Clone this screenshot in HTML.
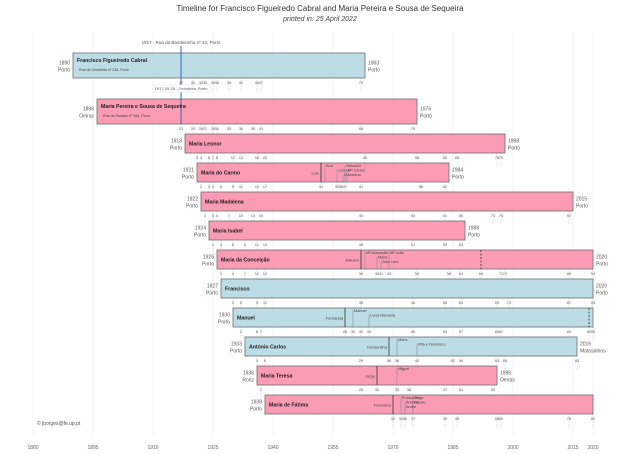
<!DOCTYPE html>
<html><head><meta charset="utf-8">
<style>
html,body{margin:0;padding:0;background:#fff;}
svg{display:block;font-family:"Liberation Sans",sans-serif;}
</style></head>
<body>
<svg id="chart" width="640" height="454" viewBox="0 0 640 454">
<text x="320" y="11" text-anchor="middle" font-size="8" fill="#333">Timeline for Francisco Figueiredo Cabral and Maria Pereira e Sousa de Sequeira</text>
<text x="320" y="21" text-anchor="middle" font-size="7" font-style="italic" fill="#444">printed in:  25 April 2022</text>
<text x="37" y="425" font-size="5" fill="#555">© jborges@fe.up.pt</text>
<g id="grid"></g><g id="rows"></g><g id="axis"></g>
</svg>
<script>
const axisYears = [1880, 1895, 1910, 1925, 1940, 1955, 1970, 1985, 2000, 2015, 2020];
const names = ["Francisco Figueiredo Cabral","Maria Pereira e Sousa de Sequeira","Maria Leonor","Maria do Carmo","Maria Madalena","Maria Isabel","Maria da Conceição","Francisco","Manuel","António Carlos","Maria Teresa","Maria de Fátima"];
const births = [1890,1896,1918,1921,1922,1924,1926,1927,1930,1933,1936,1938];
const deaths = [1963,1976,1998,1984,2015,1988,2020,2020,2020,2016,1996,2020];
const birthPlaces = ["Porto","Oeiras","Porto","Porto","Porto","Porto","Porto","Porto","Porto","Porto","Roriz","Porto"];
const deathLabels = ["1963","1976","1998","1984","2015","1988","2020","2020","","2016","1996",""];
const deathPlaces = ["Porto","Porto","Porto","Porto","Porto","Porto","Porto","Porto","","Matosinhos","Oeiras",""];
const sexes = ["M","F","F","F","F","F","F","M","M","M","F","F"];
const addresses = ["Rua de Cedofeita nº 238, Porto","Rua do Rosário nº 166, Porto","","","","","","","","","",""];
const ageTicks = [
 [27,30,32,33,35,36,39,42,46,47,72],
 [21,24,26,27,29,30,33,36,39,41,66,79],
 [3,4,6,7,8,12,14,18,20,45,58,65,68,78,79],
 [1,3,4,6,9,11,15,17,31,35,36,37,41,56,62],
 [1,3,4,7,10,13,15,40,53,61,65,73,75,92],
 [1,3,6,9,12,14,38,51,59,63],
 [1,4,7,10,12,36,40,41,43,50,58,61,66,71,72,88,94],
 [3,5,9,11,35,48,56,60,69,72,87,93],
 [2,6,7,28,30,32,34,45,53,57,66,67,84,89,90],
 [3,5,29,36,38,43,52,54,63,65,83],
 [1,26,30,35,38,47,51,59],
 [32,34,35,37,45,48,58,59,76,82]
];
const spouseAges = [null,null,null,31,null,null,36,null,28,36,30,32];
const spouseNames = ["","","","Luís","","","Adriano","","Fernanda","Clementina","Jorge","Francisco"];
const dashAges = [null,null,null,null,null,null,66,null,89,null,null,null];
const childAges = [[],[],[],[32,35,36.5,37,37.5],[],[],[37,40,41,43],[],[30,34],[38,43],[35],[34,35,37,35,37]];
const childNames = [[],[],[],["Ana","Leonor","Madalena","Salvador","Mª Carmo"],[],[],["Mª Assunção","Maria","José Luís","Mª João"],[],["Manuel","Luísa Manuela"],["Maria","Rita e Francisco"],["Miguel"],["Francisco","António","Fausto","André","Tiago"]];
const childLevels = [[],[],[],[0,1,2,0,1],[],[],[0,1,2,0],[],[0,1],[0,1],[0],[0,1,1,2,0]];
const eventYear = 1917;

const NS="http://www.w3.org/2000/svg";
const x = y => 33 + (y - 1880) * 4;
const rowTop = i => i===0 ? 53 : i===1 ? 99 : 134 + (i-2)*29;
const rowH = i => i<2 ? 25 : 19;
function mk(tag, attrs, parent, txt){const e=document.createElementNS(NS,tag);for(const k in attrs)e.setAttribute(k,attrs[k]);if(txt!==undefined)e.textContent=txt;parent.appendChild(e);return e;}
const grid=document.getElementById('grid'), rows=document.getElementById('rows'), axis=document.getElementById('axis');

axisYears.forEach(yr=>{
  const l=mk('line',{x1:x(yr),x2:x(yr),y1:32,y2:436,stroke:'#ececec','stroke-width':0.6},grid);
  
  
  const t=mk('text',{x:x(yr),y:449,'text-anchor':'middle','font-size':5,fill:'#666'},axis,String(yr));
  
  
});

names.forEach((nm,i)=>{
  const g=mk('g',{},rows);
  
  
  const top=rowTop(i), h=rowH(i), bot=top+h;
  const x0=x(births[i]), x1=x(deaths[i]);
  // age ticks
  ageTicks[i].forEach(a=>{
    const tx=x(births[i]+a);
    const dl=mk('line',{x1:tx,x2:tx,y1:bot,y2:bot+14,stroke:'#bbb','stroke-width':0.5,'stroke-dasharray':'1,1'},g);
    
    
    const tt=mk('text',{x:tx,y:bot+6,'text-anchor':'middle','font-size':4,fill:'#666'},g,String(a));
    
    
  });
  const r=mk('rect',{x:x0,y:top,width:x1-x0,height:h,fill:sexes[i]==='M'?'#bcdde6':'#fb9bb4',stroke:'#6e6e6e','stroke-width':0.8},g);
  
  
  const nt=mk('text',{x:x0+4,y:top+(i<2?9:h/2+2),'font-size':5.2,'font-weight':'bold',fill:'#222'},g,nm);
  
  
  if(addresses[i]){
    const at=mk('text',{x:x0+6,y:top+18,'font-size':3.6,fill:'#444'},g,addresses[i]);
    
    
  }
  const by=mk('text',{x:x0-3,y:top+h/2-1,'text-anchor':'end','font-size':5,fill:'#555'},g,String(births[i]));
  
  
  const bp=mk('text',{x:x0-3,y:top+h/2+6,'text-anchor':'end','font-size':5,fill:'#555'},g,birthPlaces[i]);
  
  
  if(deathLabels[i]){
    const dy=mk('text',{x:x1+3,y:top+h/2-1,'font-size':5,fill:'#555'},g,deathLabels[i]);
    
    
    const dp=mk('text',{x:x1+3,y:top+h/2+6,'font-size':5,fill:'#555'},g,deathPlaces[i]);
    
    
  }
  if(spouseAges[i]!==null){
    const sx=x(births[i]+spouseAges[i]);
    const sl=mk('line',{x1:sx,x2:sx,y1:top,y2:bot,stroke:'#333','stroke-width':0.8},g);
    
    
    const st=mk('text',{x:sx-2,y:top+h/2+2,'text-anchor':'end','font-size':4,fill:'#444'},g,spouseNames[i]);
    
    
  }
  if(dashAges[i]!==null){
    const dx=x(births[i]+dashAges[i]);
    const dl=mk('line',{x1:dx,x2:dx,y1:top,y2:bot,stroke:'#333','stroke-width':0.8,'stroke-dasharray':'2,1.5'},g);
    
    
  }
  childAges[i].forEach((a,k)=>{
    const cx=x(births[i]+a), cy=top+4+childLevels[i][k]*4.5;
    const cl=mk('line',{x1:cx,x2:cx,y1:cy-2,y2:bot,stroke:'#8a8aa8','stroke-width':0.6},g);
    
    
    const ct=mk('text',{x:cx+1,y:cy,'font-size':3.8,fill:'#444'},g,childNames[i][k]);
    
    
  });
});

const ex=x(eventYear);
const ev=mk('line',{x1:ex,x2:ex,y1:46,y2:124,stroke:'#2a5ea8','stroke-width':0.9},rows);


const et=mk('text',{x:ex,y:44,'text-anchor':'middle','font-size':4.5,fill:'#555'},rows,eventYear+' - Rua da Bandeirinha nº 42, Porto');


const bx=mk('rect',{x:ex-28,y:85,width:57,height:7,fill:'#fff',stroke:'#ddd','stroke-width':0.5},rows);


const bt=mk('text',{x:ex,y:90,'text-anchor':'middle','font-size':4,fill:'#555'},rows,'1917-05-26 - Cedofeita, Porto');


</script>
</body></html>
